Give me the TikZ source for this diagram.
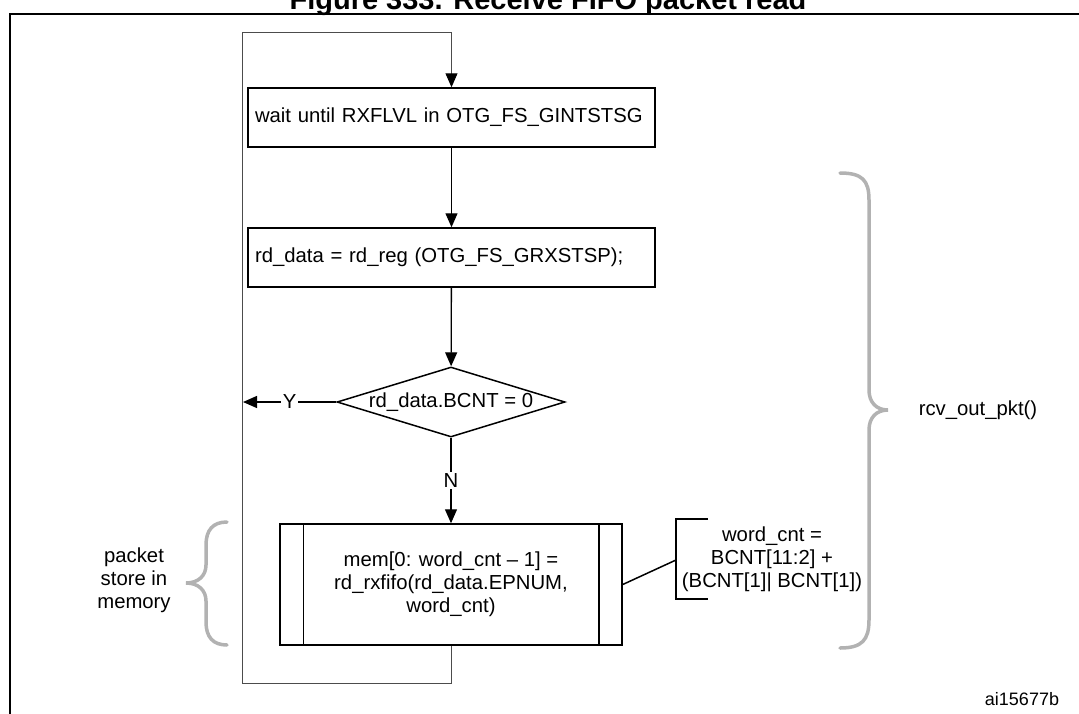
\documentclass[tikz,border=0pt]{standalone}
\usepackage{fontspec}
\setmainfont{Liberation Sans}
\usetikzlibrary{arrows.meta,shapes.geometric}

\tikzset{
    stepbox/.style={draw, line width=1.5pt, minimum height=59pt, text width=393pt, align=left, inner xsep=7pt, inner ysep=9pt},
    procbox/.style={draw, line width=1.5pt, minimum width=342pt, minimum height=121pt, align=center},
    decision/.style={diamond, draw, line width=1.5pt, aspect=3.26, minimum width=228pt, minimum height=70pt, inner sep=0pt},
    flow/.style={line width=1.3pt, -{Triangle[length=14pt,width=12pt]}},
    loopln/.style={draw=black!70, line width=1pt, -{Triangle[length=14pt,width=12pt,color=black]}},
    lbl/.style={fill=white, inner sep=2pt},
    brace/.style={draw=black!30, line width=3.5pt, line cap=round},
}

\begin{document}
\begin{tikzpicture}[x=1pt, y=-1pt, font=\fontsize{20.3}{23}\selectfont]
    \clip (0,0) rectangle (1079,713);

    % frame and title
    \node[font=\bfseries\fontsize{29}{32}\selectfont, anchor=base] (title) at (548,9) {Figure 333. Receive FIFO packet read};
    \draw[line width=2pt] (10,740) -- (10,14) -- (1090,14);

    % flow
    \node[stepbox] (wait) at (451.5,117.5) {wait until RXFLVL in OTG\_FS\_GINTSTSG};
    \node[stepbox] (rdreg) at (451.5,257.5) {rd\_data = rd\_reg (OTG\_FS\_GRXSTSP);};
    \node[decision] (bcnt) at (451,402) {rd\_data.BCNT = 0};
    \node[procbox] (mem) at (451,584.5) {mem[0: word\_cnt \textendash{} 1] =\\rd\_rxfifo(rd\_data.EPNUM,\\word\_cnt)};
    \draw[line width=1.5pt] ([xshift=24pt]mem.north west) -- ([xshift=24pt]mem.south west);
    \draw[line width=1.5pt] ([xshift=-24pt]mem.north east) -- ([xshift=-24pt]mem.south east);

    \draw[flow] (wait) -- (rdreg);
    \draw[flow] (rdreg) -- (bcnt);
    \draw[flow] (bcnt) -- node[lbl]{N} (mem);
    \coordinate (yend) at (243,402);
    \draw[flow] (bcnt) -- node[lbl]{Y} (yend);

    % loop back
    \coordinate (lpbl) at (242,683);
    \coordinate (lptl) at (242,32);
    \draw[loopln] (mem.south) |- (lpbl) -- (lptl) -| (wait.north);

    % word count note
    \node[align=center] (wcnt) at (772,559) {word\_cnt =\\BCNT[11:2] +\\(BCNT[1]| BCNT[1])};
    \coordinate (brk) at (676,560);
    \draw[line width=1.5pt] (708,519) -- (676,519) -- (676,599) -- (708,599);
    \draw[line width=1.5pt] (mem.east) -- (brk);

    % braces
    \draw[brace] (227,522) .. controls (213,522) and (206,530) .. (206,545) -- (206,565)
        .. controls (206,576) and (198,583) .. (186,583) .. controls (198,583) and (206,590) .. (206,601)
        -- (206,622) .. controls (206,637) and (213,645) .. (227,645);
    \node[align=center] (pkt) at (134,580) {packet\\store in\\memory};

    \draw[brace] (840,173) .. controls (862,173) and (869,180) .. (869,200) -- (869,390)
        .. controls (869,402) and (876,410) .. (888,410) .. controls (876,410) and (869,418) .. (869,430)
        -- (869,620) .. controls (869,640) and (862,648) .. (840,648);
    \node (rcv) at (978,410) {rcv\_out\_pkt()};

    \node[font=\fontsize{18}{20}\selectfont] (code) at (1022,699) {ai15677b};
\end{tikzpicture}
\end{document}
